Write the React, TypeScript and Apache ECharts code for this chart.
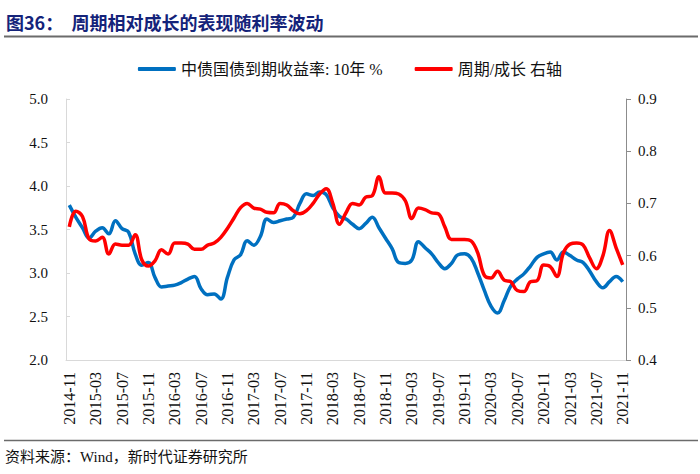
import React, { useEffect, useRef } from "react";
import * as echarts from "echarts";

// Monthly categories 2014-11 .. 2021-11
const months: string[] = [];
for (let y = 2014, m = 11; y < 2021 || (y === 2021 && m <= 11); ) {
  months.push(`${y}-${String(m).padStart(2, "0")}`);
  m++;
  if (m > 12) { m = 1; y++; }
}

// 中债国债到期收益率:10年 (%), left axis
const bondYield: number[] = [
  3.78, 3.64, 3.52, 3.40, 3.48, 3.52, 3.45, 3.60, 3.51, 3.47,
  3.22, 3.09, 3.12, 2.95, 2.84, 2.85, 2.86, 2.89, 2.93, 2.96,
  2.82, 2.75, 2.76, 2.70, 2.95, 3.15, 3.21, 3.37, 3.32, 3.42,
  3.62, 3.58, 3.60, 3.62, 3.64, 3.80, 3.91, 3.89, 3.93, 3.90,
  3.75, 3.65, 3.62, 3.56, 3.51, 3.57, 3.64, 3.52, 3.40, 3.28,
  3.12, 3.11, 3.15, 3.36, 3.29, 3.22, 3.12, 3.05, 3.11, 3.21,
  3.22, 3.17, 3.00, 2.80, 2.62, 2.54, 2.68, 2.85, 2.93, 2.99,
  3.08, 3.18, 3.22, 3.24, 3.15, 3.24, 3.20, 3.15, 3.12, 3.02,
  2.90, 2.83, 2.90, 2.96, 2.90,
];

// 周期/成长, right axis
const cycleGrowth: number[] = [
  0.655, 0.685, 0.675, 0.632, 0.628, 0.635, 0.603, 0.622, 0.620, 0.620,
  0.640, 0.592, 0.580, 0.590, 0.611, 0.603, 0.624, 0.624, 0.622, 0.612,
  0.612, 0.620, 0.624, 0.635, 0.652, 0.672, 0.692, 0.700, 0.691, 0.689,
  0.683, 0.682, 0.700, 0.697, 0.686, 0.680, 0.686, 0.700, 0.718, 0.728,
  0.700, 0.660, 0.682, 0.700, 0.697, 0.712, 0.715, 0.751, 0.720, 0.720,
  0.718, 0.705, 0.671, 0.691, 0.688, 0.682, 0.680, 0.655, 0.631, 0.631,
  0.631, 0.628, 0.605, 0.562, 0.557, 0.570, 0.553, 0.550, 0.533, 0.531,
  0.550, 0.552, 0.582, 0.579, 0.560, 0.605, 0.622, 0.624, 0.620, 0.595,
  0.575, 0.600, 0.648, 0.615, 0.582,
];

const leftTicks = { min: 2.0, max: 5.0, interval: 0.5 };
const rightTicks = { min: 0.4, max: 0.9, interval: 0.1 };

const seriesNames = ["中债国债到期收益率: 10年 %", "周期/成长 右轴"];

export default function App() {
  const ref = useRef<HTMLDivElement>(null);
  useEffect(() => {
    document.body.style.margin = "0";
    const chart = echarts.init(ref.current!, null, { renderer: "svg" });
    const serif = "'Liberation Serif', 'Times New Roman', 'Noto Sans CJK SC', serif";
    chart.setOption({
      animation: false,
      backgroundColor: "#ffffff",
      textStyle: { fontFamily: serif },
      grid: { left: 66, right: 74, top: 99, bottom: 114 },
      legend: {
        top: 56,
        left: "center",
        itemWidth: 38,
        itemHeight: 4,
        itemGap: 32,
        icon: "roundRect",
        textStyle: { fontFamily: serif, fontSize: 16, color: "#111" },
        data: seriesNames,
      },
      xAxis: {
        type: "category",
        data: months,
        boundaryGap: true,
        axisLine: { lineStyle: { color: "#d9d9d9", width: 1 } },
        axisTick: { show: false },
        axisLabel: {
          interval: 3,
          rotate: 90,
          margin: 12,
          fontFamily: serif,
          fontSize: 16,
          color: "#111",
        },
      },
      yAxis: [
        {
          type: "value",
          ...leftTicks,
          splitLine: { show: false },
          axisLine: { show: true, lineStyle: { color: "#d9d9d9" } },
          axisTick: { show: true, inside: true, length: 4, lineStyle: { color: "#d9d9d9" } },
          axisLabel: {
            formatter: (v: number) => v.toFixed(1),
            margin: 18,
            fontFamily: serif,
            fontSize: 15,
            color: "#111",
          },
        },
        {
          type: "value",
          ...rightTicks,
          position: "right",
          splitLine: { show: false },
          axisLine: { show: true, lineStyle: { color: "#8c8c8c" } },
          axisTick: { show: true, length: 5, lineStyle: { color: "#8c8c8c" } },
          axisLabel: {
            formatter: (v: number) => v.toFixed(1),
            margin: 12,
            fontFamily: serif,
            fontSize: 15,
            color: "#111",
          },
        },
      ],
      series: [
        {
          name: seriesNames[0],
          type: "line",
          yAxisIndex: 0,
          data: bondYield,
          smooth: 0.4,
          showSymbol: false,
          symbol: "none",
          lineStyle: { color: "#0070C0", width: 3.5 },
          itemStyle: { color: "#0070C0" },
        },
        {
          name: seriesNames[1],
          type: "line",
          yAxisIndex: 1,
          data: cycleGrowth,
          smooth: 0.4,
          showSymbol: false,
          symbol: "none",
          lineStyle: { color: "#FF0000", width: 3.5 },
          itemStyle: { color: "#FF0000" },
        },
      ],
      graphic: [
        {
          type: "text",
          left: 6,
          top: 13,
          style: {
            text: "图36：  周期相对成长的表现随利率波动",
            fontSize: 18,
            fontWeight: "bold",
            fontFamily: "'Noto Sans CJK SC', sans-serif",
            fill: "#14237A",
          },
        },
        {
          type: "line",
          shape: { x1: 4, y1: 36.5, x2: 698, y2: 36.5 },
          style: { stroke: "#6b6b6b", lineWidth: 2 },
        },
        {
          type: "line",
          shape: { x1: 4, y1: 440.5, x2: 698, y2: 440.5 },
          style: { stroke: "#6b6b6b", lineWidth: 1.5 },
        },
        {
          type: "text",
          left: 5,
          top: 449,
          style: {
            text: "资料来源：Wind，新时代证券研究所",
            fontSize: 15,
            fontFamily: serif,
            fill: "#111",
          },
        },
      ],
    });
    return () => chart.dispose();
  }, []);
  return <div ref={ref} style={{ width: 700, height: 474 }} />;
}
